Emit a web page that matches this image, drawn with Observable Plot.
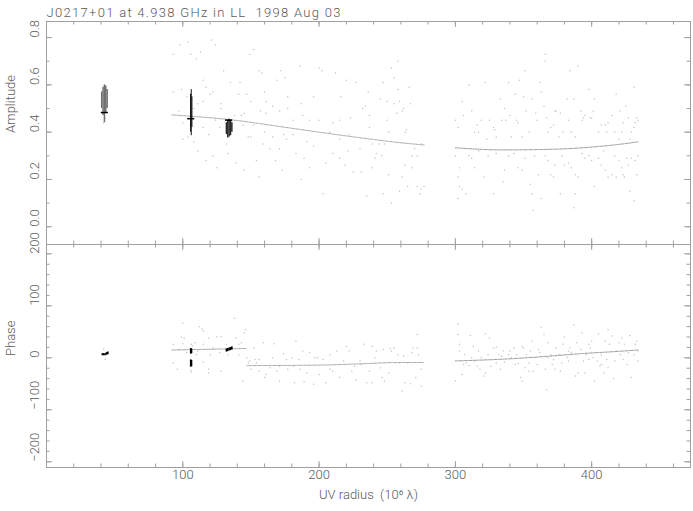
<!DOCTYPE html>
<html><head><meta charset="utf-8">
<script src="https://cdn.jsdelivr.net/npm/d3@7"></script>
<script src="https://cdn.jsdelivr.net/npm/@observablehq/plot@0.6"></script>
<style>body{margin:0;background:#fff} #chart svg{display:block} .plot-title text{letter-spacing:1.3px}</style>
</head><body><div id="chart"></div>
<script>
const title = "J0217+01 at 4.938 GHz in LL \u00a01998 Aug 03";
const xLabel = "UV radius \u00a0(10\u2076 \u03bb)";
const ampLabel = "Amplitude";
const phaseLabel = "Phase";
const xTickLabels = [100, 200, 300, 400];
const ampTickLabels = [0, 0.2, 0.4, 0.6, 0.8];
const phaseTickLabels = [-200, -100, 0, 100, 200];

// Scattered visibilities, amplitude panel [uv radius, amplitude]
const ampScatterA = [[93,0.73],[98,0.77],[104,0.78],[106,0.73],[110,0.71],[113,0.74],[121,0.79],[124,0.77],[93,0.57],[99,0.58],[103,0.55],[115,0.62],[117,0.59],[122,0.57],[128,0.52],[130,0.66],[135,0.61],[141,0.56],[142,0.61],[149,0.73],[152,0.75],[156,0.66],[158,0.65],[160,0.57],[161,0.53],[169,0.62],[172,0.66],[175,0.63],[177,0.55],[186,0.68],[187,0.52],[196,0.55],[200,0.67],[202,0.66],[212,0.65],[216,0.55],[220,0.62],[227,0.61],[232,0.50],[234,0.51],[223,0.46],[215,0.45],[210,0.44],[200,0.45],[193,0.45],[188,0.47],[181,0.45],[177,0.50],[171,0.49],[166,0.51],[161,0.48],[157,0.49],[150,0.53],[147,0.56],[145,0.48],[143,0.47],[138,0.47],[120,0.56],[115,0.53],[111,0.52],[108,0.50],[97,0.49],[100,0.37],[104,0.38],[108,0.36],[111,0.32],[117,0.28],[122,0.30],[125,0.25],[132,0.35],[139,0.27],[145,0.24],[148,0.38],[150,0.38],[154,0.28],[156,0.21],[159,0.35],[164,0.33],[168,0.28],[171,0.33],[173,0.24],[176,0.37],[183,0.31],[187,0.20],[189,0.29],[193,0.25],[196,0.34],[203,0.14],[205,0.27],[210,0.31],[215,0.29],[219,0.26],[221,0.32],[225,0.23],[230,0.33],[235,0.13],[231,0.23],[222,0.39],[215,0.37],[208,0.40],[191,0.36],[181,0.39],[174,0.39],[166,0.38],[160,0.40],[152,0.43],[144,0.43],[115,0.42],[119,0.39],[127,0.42],[133,0.31],[124,0.45],[128,0.50],[100,0.44],[106,0.43],
[236,0.57],[237,0.47],[241,0.29],[245,0.54],[247,0.61],[250,0.53],[250,0.45],[253,0.67],[255,0.63],[258,0.70],[258,0.58],[259,0.53],[261,0.49],[263,0.40],[264,0.41],[266,0.59],[267,0.52],[268,0.30],[262,0.50],[257,0.48],[255,0.52],[251,0.40],[246,0.30],[242,0.31],[239,0.25],[239,0.35],[237,0.42],[244,0.35],[248,0.35],[251,0.22],[261,0.21],[265,0.17],[263,0.26],[268,0.25],[272,0.30],[272,0.17],[274,0.14],[275,0.16],[277,0.17],[259,0.15],[253,0.10],[247,0.14],[270,0.33],[275,0.35],[42,0.44],[43,0.46]];
const ampScatterB = [[300,0.45],[302,0.42],[305,0.53],[306,0.47],[310,0.60],[312,0.49],[314,0.40],[316,0.43],[317,0.40],[319,0.45],[322,0.61],[323,0.37],[325,0.45],[328,0.42],[329,0.41],[330,0.38],[333,0.54],[334,0.45],[336,0.50],[337,0.45],[339,0.61],[340,0.47],[341,0.38],[344,0.56],[345,0.45],[346,0.44],[347,0.62],[349,0.38],[350,0.55],[351,0.66],[352,0.49],[354,0.40],[356,0.54],[359,0.48],[360,0.45],[362,0.61],[363,0.57],[365,0.51],[366,0.73],[366,0.70],[367,0.46],[368,0.40],[370,0.42],[372,0.43],[373,0.49],[374,0.49],[376,0.38],[377,0.48],[379,0.40],[382,0.54],[383,0.45],[384,0.66],[385,0.40],[387,0.54],[388,0.38],[390,0.68],[392,0.49],[393,0.45],[394,0.46],[395,0.47],[398,0.58],[399,0.46],[400,0.46],[401,0.49],[402,0.54],[405,0.40],[407,0.43],[410,0.43],[411,0.40],[412,0.44],[415,0.47],[417,0.40],[418,0.56],[420,0.37],[421,0.49],[422,0.40],[423,0.44],[425,0.51],[427,0.46],[428,0.37],[429,0.40],[431,0.42],[431,0.59],[432,0.44],[433,0.46],[434,0.45],
[300,0.30],[302,0.21],[303,0.25],[303,0.17],[305,0.16],[308,0.14],[302,0.12],[310,0.30],[312,0.29],[314,0.25],[317,0.32],[321,0.21],[324,0.30],[328,0.14],[330,0.31],[335,0.19],[336,0.24],[339,0.30],[343,0.31],[346,0.25],[349,0.24],[351,0.29],[355,0.18],[356,0.14],[358,0.30],[361,0.22],[363,0.12],[366,0.30],[368,0.28],[370,0.22],[372,0.21],[373,0.26],[377,0.14],[378,0.30],[380,0.26],[383,0.27],[385,0.25],[388,0.22],[388,0.14],[387,0.08],[390,0.21],[393,0.31],[395,0.29],[398,0.30],[400,0.28],[402,0.17],[405,0.29],[407,0.26],[409,0.32],[410,0.24],[412,0.21],[415,0.22],[417,0.30],[418,0.21],[420,0.28],[422,0.25],[423,0.22],[424,0.21],[426,0.29],[427,0.26],[428,0.15],[429,0.29],[431,0.11],[432,0.28],[433,0.22],[434,0.30],[357,0.07]];

// Scattered visibilities, phase panel [uv radius, phase deg]
const phaseScatterA = [[100,67],[99,40],[101,38],[100,27],[93,26],[93,-10],[96,-22],[103,10],[109,29],[110,6],[112,60],[114,56],[115,52],[115,26],[119,-22],[119,-29],[120,6],[122,19],[125,40],[127,10],[128,-26],[128,41],[132,26],[133,6],[136,22],[138,76],[139,38],[141,26],[141,6],[143,29],[145,48],[146,54],[147,0],[148,-10],[149,-6],[152,19],[153,-3],[154,-10],[156,-3],[159,29],[160,-38],[161,-32],[164,-19],[166,0],[167,27],[169,-26],[171,-45],[174,8],[176,-3],[177,-22],[180,0],[181,-16],[182,-48],[183,32],[185,-3],[186,-22],[188,13],[189,-46],[191,-29],[193,10],[196,-51],[197,0],[199,0],[200,-32],[203,-3],[205,-48],[208,6],[210,-26],[213,13],[215,-38],[218,-6],[220,22],[222,13],[224,-26],[226,-16],[227,-42],[230,-6],[231,-13],[233,26],[235,-48],[208,-22],[171,-16],[156,-26],[150,-22],[144,-45],[119,38],[115,-8],[97,16],[106,26],[111,13],
[239,22],[241,0],[237,-26],[239,-48],[242,13],[245,-19],[246,-38],[248,-45],[247,16],[251,-29],[252,18],[253,13],[255,19],[258,6],[259,-10],[261,-64],[262,3],[263,-48],[265,-10],[267,-50],[268,10],[269,19],[271,-38],[272,45],[273,6],[275,-54],[275,-22],[272,19],[256,-10],[42,17],[43,-3],[106,-25],[106,-28],[107,23]];
const phaseScatterB = [[300,-44],[302,65],[302,45],[303,26],[303,13],[305,-32],[306,-13],[307,6],[308,-10],[310,-15],[311,43],[312,0],[313,22],[314,-6],[316,-16],[317,13],[318,-22],[319,0],[321,-35],[322,46],[322,-29],[324,6],[325,38],[326,-16],[328,19],[330,21],[330,-10],[332,6],[333,-22],[334,3],[335,13],[336,-8],[339,6],[340,13],[341,0],[343,19],[344,-13],[345,6],[346,-11],[348,-38],[349,-45],[349,22],[350,19],[351,-19],[352,6],[354,-10],[355,13],[356,32],[357,-26],[358,0],[360,-13],[361,16],[362,10],[363,59],[365,45],[366,-22],[367,-62],[368,29],[370,6],[371,-13],[372,-3],[373,-22],[374,19],[376,6],[377,-26],[378,-10],[379,26],[380,40],[382,0],[383,13],[384,19],[385,10],[387,63],[388,-35],[389,29],[390,-29],[392,16],[393,48],[394,-6],[395,-29],[396,6],[398,26],[399,19],[400,32],[401,0],[402,-45],[404,-6],[405,46],[406,-16],[407,6],[409,-29],[410,32],[411,-3],[412,54],[413,26],[415,42],[416,-40],[417,-6],[418,13],[420,29],[421,6],[422,38],[423,-3],[424,26],[426,-13],[427,10],[428,43],[429,-38],[431,6],[432,26],[433,32],[434,13],[434,-6],[412,-19],[407,-13],[398,-3],[383,-6],[368,0],[354,-26]];

// Model curves
const ampModelA = [[92,0.473],[107,0.467],[136,0.452],[171,0.424],[200,0.400],[236,0.372],[257,0.357],[277,0.346]];
const ampModelB = [[300,0.334],[334,0.325],[373,0.328],[402,0.338],[418,0.347],[434,0.359]];
const phaseModelA = [[92,15],[147,18]];
const phaseModelB = [[147,-15],[200,-14],[236,-11],[256,-9],[277,-9]];
const phaseModelC = [[300,-6],[339,-2],[368,3],[392,8],[417,12],[434,15]];

// Dense short-baseline clusters: [uv radius, low, high]
const ampCluster1 = [[40.5,0.50,0.57],[41.5,0.47,0.59],[42.5,0.44,0.60],[43.5,0.48,0.595],[44.5,0.50,0.58]];
const ampCluster2 = [[105.7,0.40,0.56],[106.2,0.385,0.58],[106.7,0.42,0.55]];
const ampCluster3 = [[132,0.39,0.44],[133,0.375,0.45],[134,0.38,0.455],[135,0.385,0.45],[136,0.40,0.44]];
const ampClusterModel = [[42.8,0.483],[106.2,0.457],[134,0.451]];
const phaseClusters = [[41,4,8],[42,4,8],[43,4,8],[44,5,10],[45,6,11],[105.8,7,18],[106.4,8,17],[105.8,-18,-4],[106.4,-17,-5],[132,11,17],[133,12,18],[134,13,19],[135,14,20],[136,15,21]];

const W = 693, ML = 46, MR = 3;
const xDomain = [0, 472.5];
const gridColor = "#a0a0a0";
const textColor = "#5a5a5a";
const font = {fontFamily: "Roboto, 'DejaVu Sans', sans-serif", fontSize: "13px", fontWeight: 300};

function ticks(innerH, xs, ys, xsMajor, ysMajor) {
  const big = 6, small = 3.5;
  return [
    Plot.tickX(xs, {x: d => d, insetBottom: innerH - small, stroke: gridColor}),
    Plot.tickX(xs, {x: d => d, insetTop: innerH - small, stroke: gridColor}),
    Plot.tickX(xsMajor, {x: d => d, insetBottom: innerH - big, stroke: gridColor}),
    Plot.tickX(xsMajor, {x: d => d, insetTop: innerH - big, stroke: gridColor}),
    Plot.tickY(ys, {y: d => d, insetRight: (W - ML - MR) - small, stroke: gridColor}),
    Plot.tickY(ys, {y: d => d, insetLeft: (W - ML - MR) - small, stroke: gridColor}),
    Plot.tickY(ysMajor, {y: d => d, insetRight: (W - ML - MR) - big, stroke: gridColor}),
    Plot.tickY(ysMajor, {y: d => d, insetLeft: (W - ML - MR) - big, stroke: gridColor})
  ];
}

const xMinor = d3.range(20, 472, 20);
const dotOpts = {r: 0.75, fill: "#c4c4c4", stroke: null};
const modelOpts = {stroke: "#a8a8a8", strokeWidth: 1, strokeDasharray: "1.5,1", curve: "monotone-x"};

const topH = 244, topMT = 21;
const ampPlot = Plot.plot({
  width: W, height: topH, marginLeft: ML, marginRight: MR, marginTop: topMT, marginBottom: 0,
  style: {...font, color: textColor, background: "white", overflow: "visible"},
  x: {domain: xDomain, axis: null},
  y: {domain: [-0.075, 0.868], axis: null},
  marks: [
    ...ticks(topH - topMT, xMinor, d3.range(0, 0.85, 0.1), xTickLabels, ampTickLabels),
    Plot.dot(ampScatterA, {x: d => d[0], y: d => d[1], ...dotOpts}),
    Plot.dot(ampScatterB, {x: d => d[0], y: d => d[1], ...dotOpts}),
    Plot.line(ampModelA, {x: d => d[0], y: d => d[1], ...modelOpts}),
    Plot.line(ampModelB, {x: d => d[0], y: d => d[1], ...modelOpts, stroke: "#999"}),
    Plot.ruleX(ampCluster1, {x: d => d[0], y1: d => d[1], y2: d => d[2], stroke: "#707070", strokeWidth: 1.5}),
    Plot.ruleX(ampCluster2, {x: d => d[0], y1: d => d[1], y2: d => d[2], stroke: "#111", strokeWidth: 1}),
    Plot.ruleX(ampCluster3, {x: d => d[0], y1: d => d[1], y2: d => d[2], stroke: "#2a2a2a", strokeWidth: 1.5}),
    Plot.ruleY(ampClusterModel, {y: d => d[1], x1: d => d[0] - 2.6, x2: d => d[0] + 2.6, stroke: "#000", strokeWidth: 1.5}),
    Plot.text(ampTickLabels, {y: d => d, frameAnchor: "left", dx: -12, rotate: -90, text: d => d.toFixed(1), fill: textColor}),
    Plot.text([ampLabel], {frameAnchor: "left", dx: -36, rotate: -90, text: d => d, fill: textColor}),
    Plot.text([title], {frameAnchor: "top-left", dy: -14, textAnchor: "start", text: d => d, fill: textColor, className: "plot-title"}),
    Plot.frame({stroke: gridColor})
  ]
});

const botH = 267, botMB = 44;
const phasePlot = Plot.plot({
  width: W, height: botH, marginLeft: ML, marginRight: MR, marginTop: 0, marginBottom: botMB,
  style: {...font, color: textColor, background: "white", overflow: "visible"},
  x: {domain: xDomain, axis: null},
  y: {domain: [-211, 218], axis: null},
  marks: [
    ...ticks(botH - botMB, xMinor, d3.range(-200, 220, 20), xTickLabels, phaseTickLabels),
    Plot.dot(phaseScatterA, {x: d => d[0], y: d => d[1], ...dotOpts}),
    Plot.dot(phaseScatterB, {x: d => d[0], y: d => d[1], ...dotOpts}),
    Plot.line(phaseModelA, {x: d => d[0], y: d => d[1], ...modelOpts}),
    Plot.line(phaseModelB, {x: d => d[0], y: d => d[1], ...modelOpts}),
    Plot.line(phaseModelC, {x: d => d[0], y: d => d[1], ...modelOpts, stroke: "#999"}),
    Plot.ruleX(phaseClusters, {x: d => d[0], y1: d => d[1], y2: d => d[2], stroke: "#000", strokeWidth: 1.6}),
    Plot.text(phaseTickLabels, {y: d => d, frameAnchor: "left", dx: -12, rotate: -90, text: d => d < 0 ? "\u2212" + Math.abs(d) : String(d), fill: textColor}),
    Plot.text([phaseLabel], {frameAnchor: "left", dx: -36, rotate: -90, text: d => d, fill: textColor}),
    Plot.text(xTickLabels, {x: d => d, frameAnchor: "bottom", dy: 11, text: d => String(d), fill: textColor}),
    Plot.text([xLabel], {frameAnchor: "bottom", dy: 31, text: d => d, fill: textColor}),
    Plot.frame({stroke: gridColor})
  ]
});

const chart = document.getElementById("chart");
chart.appendChild(ampPlot);
chart.appendChild(phasePlot);
</script>
</body></html>
